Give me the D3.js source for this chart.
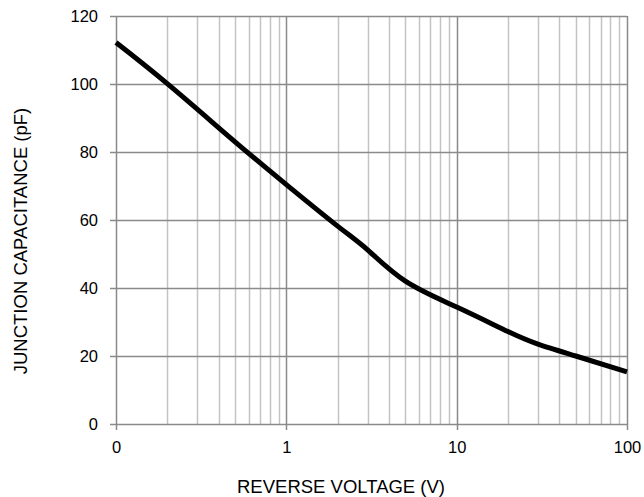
<!DOCTYPE html>
<html>
<head>
<meta charset="utf-8">
<script src="https://cdn.jsdelivr.net/npm/d3@7"></script>
<style>
  body { margin: 0; background: #fff; }
  text { font-family: "Liberation Sans", Arial, sans-serif; fill: #000; }
</style>
</head>
<body>
<div id="chart"></div>
<script>
// reverse voltage (V) and junction capacitance (pF)
var voltage = [0.1, 0.2, 0.5, 1, 2, 3, 5, 10, 20, 30, 50, 100];
var capacitance = [112.2, 100.1, 83, 70.4, 58.2, 51.2, 42, 34.4, 27.2, 23.5, 20, 15.3];
var xTicks = [0.1, 1, 10, 100];
var xTickLabels = ["0", "1", "10", "100"];
var yTicks = [0, 20, 40, 60, 80, 100, 120];

var dataset = voltage.map(function(v, i) { return { v: v, c: capacitance[i] }; });

var width = 644, height = 497;
var padding = { left: 116, right: 17, top: 16, bottom: 73 };
var font = "'Liberation Sans', Arial, sans-serif";

var svg = d3.select("#chart")
	.append("svg")
	.attr("width", width)
	.attr("height", height);

var xScale = d3.scaleLog()
	.domain([0.1, 100])
	.range([padding.left, width - padding.right]);

var yScale = d3.scaleLinear()
	.domain([0, 120])
	.range([height - padding.bottom, padding.top]);

// minor vertical grid lines (2..9 of each decade)
var minor = [];
[0.1, 1, 10].forEach(function(d) {
	for (var k = 2; k <= 9; k++) minor.push(d * k);
});

svg.append("g")
	.selectAll("line")
	.data(minor)
	.enter().append("line")
	.attr("x1", function(d) { return Math.round(xScale(d)) + 0.5; })
	.attr("x2", function(d) { return Math.round(xScale(d)) + 0.5; })
	.attr("y1", yScale(120))
	.attr("y2", yScale(0))
	.attr("stroke", "#c4c4c4")
	.attr("stroke-width", 1.5);

// major grid lines
svg.append("g")
	.selectAll("line")
	.data(xTicks)
	.enter().append("line")
	.attr("x1", function(d) { return Math.round(xScale(d)) + 0.5; })
	.attr("x2", function(d) { return Math.round(xScale(d)) + 0.5; })
	.attr("y1", yScale(120))
	.attr("y2", yScale(0) + 6)
	.attr("stroke", "#8a8a8a")
	.attr("stroke-width", 1.5);

svg.append("g")
	.selectAll("line")
	.data(yTicks)
	.enter().append("line")
	.attr("x1", xScale(0.1) - 6)
	.attr("x2", xScale(100))
	.attr("y1", function(d) { return Math.round(yScale(d)) + 0.5; })
	.attr("y2", function(d) { return Math.round(yScale(d)) + 0.5; })
	.attr("stroke", "#8a8a8a")
	.attr("stroke-width", 1.5);

// y axis labels
var yAxis = d3.axisLeft(yScale)
	.tickValues(yTicks)
	.tickSize(0)
	.tickPadding(18);

var gy = svg.append("g")
	.attr("transform", "translate(" + padding.left + ",0)")
	.call(yAxis);
gy.select(".domain").remove();
gy.selectAll("text").attr("font-size", 16.5).style("font-family", font);

// x axis labels
var xAxis = d3.axisBottom(xScale)
	.tickValues(xTicks)
	.tickFormat(function(d, i) { return xTickLabels[i]; })
	.tickSize(0)
	.tickPadding(17);

var gx = svg.append("g")
	.attr("transform", "translate(0," + (height - padding.bottom) + ")")
	.call(xAxis);
gx.select(".domain").remove();
gx.selectAll("text").attr("font-size", 16.5).style("font-family", font);

// curve
var line = d3.line()
	.curve(d3.curveNatural)
	.x(function(d) { return xScale(d.v); })
	.y(function(d) { return yScale(d.c); });

svg.append("path")
	.datum(dataset)
	.attr("d", line)
	.attr("fill", "none")
	.attr("stroke", "#000")
	.attr("stroke-width", 5)
	.attr("stroke-linejoin", "round");

// titles
svg.append("text")
	.attr("x", 341)
	.attr("y", 493)
	.attr("text-anchor", "middle")
	.attr("font-size", 18.5)
	.text("REVERSE VOLTAGE (V)");

svg.append("text")
	.attr("transform", "translate(27,241) rotate(-90)")
	.attr("text-anchor", "middle")
	.attr("font-size", 18.5)
	.text("JUNCTION CAPACITANCE (pF)");
</script>
</body>
</html>
